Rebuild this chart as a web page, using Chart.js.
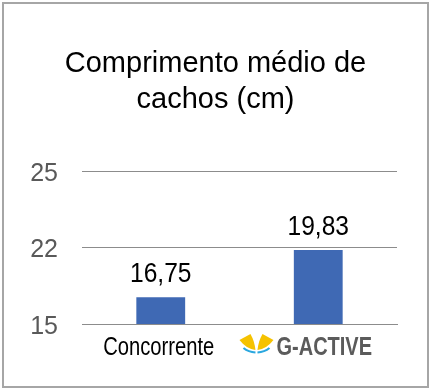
<!DOCTYPE html>
<html>
<head>
<meta charset="utf-8">
<script src="https://cdn.jsdelivr.net/npm/chart.js@4"></script>
<style>
  html, body { margin: 0; padding: 0; background: #fff; }
  #wrap { position: relative; width: 431px; height: 392px; }
  #frame { position: absolute; left: 2px; top: 2px; width: 423px; height: 382px; border: 2px solid #a6a6a6; pointer-events: none; }
  canvas { position: absolute; left: 0; top: 0; }
</style>
</head>
<body>
<div id="wrap">
  <canvas id="chart" width="431" height="392"></canvas>
  <div id="frame"></div>
</div>
<script>
const titleLines = ["Comprimento médio de", "cachos (cm)"];
const categories = ["Concorrente", "G-ACTIVE"];
const lengths = [16.75, 19.83];
const yTickValues = [15, 20, 25];
const yTickLabels = ["15", "22", "25"];

const barColor = "#3f69b4";
const sans = "'Liberation Sans', Arial, sans-serif";

// no narrow face installed, so squeeze the text horizontally
function drawCondensed(ctx, text, x, y, sx) {
  ctx.save();
  ctx.translate(x, y);
  ctx.scale(sx, 1);
  ctx.fillText(text, 0, 0);
  ctx.restore();
}

// value labels above bars, comma decimal
const valueLabels = {
  id: "valueLabels",
  afterDatasetsDraw(chart) {
    const ctx = chart.ctx;
    const meta = chart.getDatasetMeta(0);
    ctx.save();
    ctx.font = "27px " + sans;
    ctx.fillStyle = "#000";
    ctx.textAlign = "center";
    ctx.textBaseline = "alphabetic";
    meta.data.forEach((bar, i) => {
      const txt = lengths[i].toFixed(2).replace(".", ",");
      drawCondensed(ctx, txt, bar.x, bar.y - 15, 0.91);
    });
    ctx.restore();
  }
};

// category labels (condensed) + the G-ACTIVE wings logo
const categoryLabels = {
  id: "categoryLabels",
  afterDraw(chart) {
    const ctx = chart.ctx;
    const xs = chart.scales.x;
    const baseY = chart.chartArea.bottom + 31;
    ctx.save();
    ctx.textBaseline = "alphabetic";
    ctx.textAlign = "center";

    // Concorrente
    ctx.font = "26px " + sans;
    ctx.fillStyle = "#000";
    drawCondensed(ctx, categories[0], xs.getPixelForValue(0) - 2, baseY, 0.776);

    // G-ACTIVE
    ctx.font = "bold 25px " + sans;
    ctx.fillStyle = "#5b5b5b";
    const sx = 0.8;
    const cx = xs.getPixelForValue(1) + 6;
    const w = ctx.measureText(categories[1]).width * sx;
    drawCondensed(ctx, categories[1], cx, baseY, sx);

    const ox = cx - w / 2 - 37;
    const oy = baseY - 21;
    ctx.translate(ox, oy);
    ctx.fillStyle = "#f5c200";
    ctx.beginPath();
    ctx.moveTo(0, 6);
    ctx.lineTo(11, 0);
    ctx.quadraticCurveTo(15, 7, 16, 16);
    ctx.quadraticCurveTo(7, 15, 0, 6);
    ctx.fill();
    ctx.beginPath();
    ctx.moveTo(34, 6);
    ctx.lineTo(23, 0);
    ctx.quadraticCurveTo(19, 7, 18, 16);
    ctx.quadraticCurveTo(27, 15, 34, 6);
    ctx.fill();
    ctx.strokeStyle = "#2aa7df";
    ctx.lineWidth = 2.2;
    ctx.beginPath();
    ctx.moveTo(4, 14);
    ctx.quadraticCurveTo(9, 18, 16, 18.5);
    ctx.moveTo(30, 14);
    ctx.quadraticCurveTo(25, 18, 18, 18.5);
    ctx.stroke();
    ctx.restore();
  }
};

new Chart(document.getElementById("chart"), {
  type: "bar",
  data: {
    labels: categories,
    datasets: [{
      data: lengths,
      backgroundColor: barColor,
      categoryPercentage: 1,
      barPercentage: 0.31
    }]
  },
  options: {
    responsive: false,
    animation: false,
    layout: { padding: 0 },
    plugins: {
      legend: { display: false },
      tooltip: { enabled: false },
      title: {
        display: true,
        text: titleLines,
        color: "#000",
        font: { family: sans, size: 29, weight: "normal", lineHeight: 36 / 29 },
        padding: { top: 46, bottom: 53 }
      }
    },
    scales: {
      x: {
        grid: { display: false, drawTicks: false },
        border: { display: true, color: "#8c8c8c", width: 1 },
        ticks: { display: false },
        afterFit(scale) { scale.height = 68; }
      },
      y: {
        min: 15,
        max: 25,
        afterBuildTicks(scale) {
          scale.ticks = yTickValues.map(v => ({ value: v }));
        },
        grid: { color: "#8c8c8c", drawTicks: false },
        border: { display: false },
        ticks: {
          padding: 24,
          labelOffset: 3,
          color: "#595959",
          font: { family: sans, size: 25 },
          callback: (v, i) => yTickLabels[i]
        },
        afterFit(scale) { scale.width = 82; }
      },
      // empty right axis, only keeps the right margin so the title centres on the page
      yRight: {
        position: "right",
        grid: { display: false, drawTicks: false },
        border: { display: false },
        ticks: { display: false },
        afterFit(scale) { scale.width = 34; }
      }
    }
  },
  plugins: [valueLabels, categoryLabels]
});
</script>
</body>
</html>
